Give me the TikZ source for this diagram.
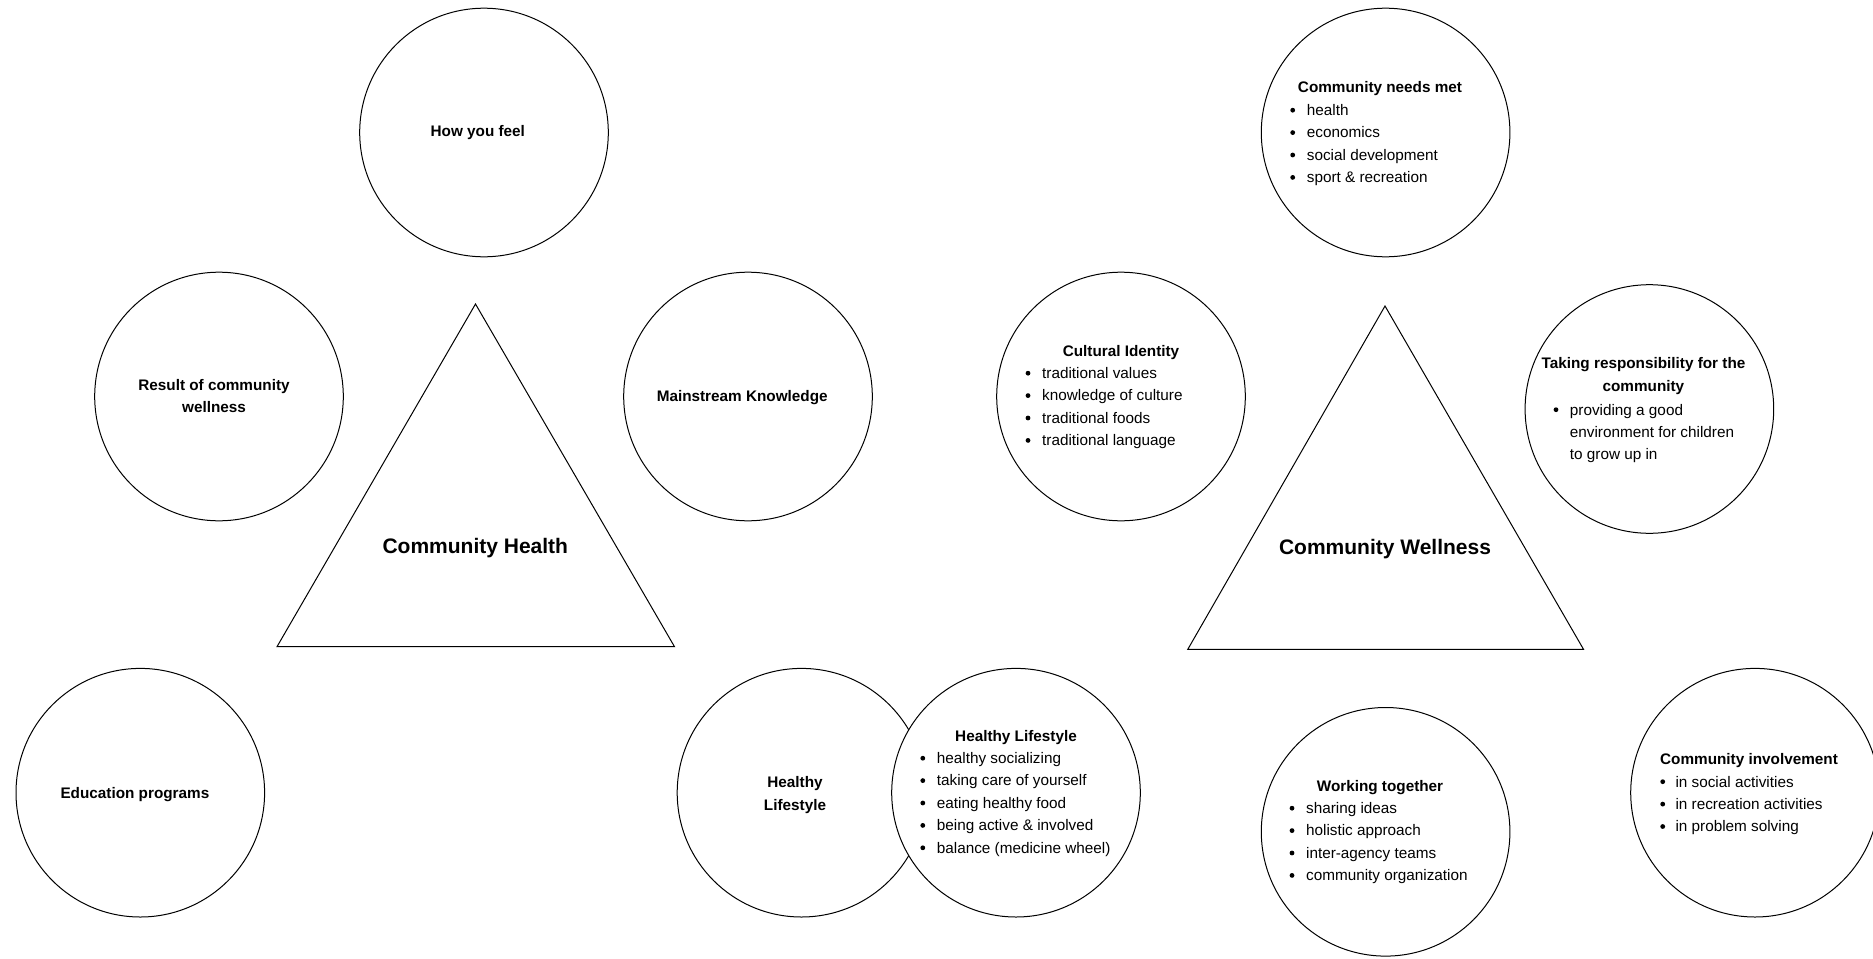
\documentclass[tikz,border=0pt]{standalone}
\usepackage{fontspec}
\setmainfont{Liberation Sans}
\begin{document}
\begin{tikzpicture}[x=1pt,y=-1pt,
  circ/.style={draw=black, line width=1pt, fill=white, circle, minimum size=248.6pt, inner sep=0pt},
  tri/.style={draw=black, line width=1pt, line join=miter},
  ttl/.style={font=\fontsize{15.3}{22.4}\selectfont\bfseries, inner sep=0pt, anchor=base},
  itm/.style={font=\fontsize{15.3}{22.4}\selectfont, inner sep=0pt, anchor=base west},
  bul/.style={circle, fill=black, inner sep=0pt, minimum size=4.8pt},
  big/.style={font=\fontsize{21}{25}\selectfont\bfseries, inner sep=0pt, anchor=base}]
\useasboundingbox (0,0) rectangle (1873,958);
\clip (0,0) rectangle (1873,958);

% ---------- left group: Community Health ----------
\node[circ] (feel) at (484,132.5) {};
\node[circ] (result) at (219,396.5) {};
\node[circ] (main) at (748,396.5) {};
\node[circ] (edu) at (140.3,792.7) {};
\node[circ] (hlA) at (801.5,792.7) {};
\node[circ] (hlB) at (1016,792.7) {};

\coordinate (chA) at (475.5,304);
\coordinate (chB) at (277,646.7);
\coordinate (chC) at (674.5,646.7);
\draw[tri] (chA) -- (chB) -- (chC) -- cycle;
\node[big] (chT) at (475.3,553) {Community Health};

\node[ttl] (feelT) at (477.8,136.7) {How you feel};
\node[ttl] (resT1) at (214,390) {Result of community};
\node[ttl] (resT2) at (214,412.3) {wellness};
\node[ttl] (mainT) at (742.2,401.7) {Mainstream Knowledge};
\node[ttl] (eduT) at (134.9,798) {Education programs};
\node[ttl] (hlAT1) at (795,787.7) {Healthy};
\node[ttl] (hlAT2) at (795,810) {Lifestyle};

\node[ttl] (hlBT) at (1016,741.5) {Healthy Lifestyle};
\foreach \t [count=\i] in {healthy socializing, taking care of yourself, eating healthy food, being active \& involved, balance (medicine wheel)} {
  \node[bul] (hlBb\i) at (922.8,{763.5+22.4*(\i-1)-5.3}) {};
  \node[itm] (hlBi\i) at (936.7,{763.5+22.4*(\i-1)}) {\t};
}

% ---------- right group: Community Wellness ----------
\node[circ] (needs) at (1385.6,132.5) {};
\node[circ] (cult) at (1121,396.5) {};
\node[circ] (take) at (1649.4,409) {};
\node[circ] (work) at (1385.6,831.8) {};
\node[circ] (inv) at (1755,792.7) {};

\coordinate (cwA) at (1385,306);
\coordinate (cwB) at (1187.8,649.3);
\coordinate (cwC) at (1583.5,649.3);
\draw[tri] (cwA) -- (cwB) -- (cwC) -- cycle;
\node[big] (cwT) at (1385,554) {Community Wellness};

\node[ttl] (needsT) at (1380,92.5) {Community needs met};
\foreach \t [count=\i] in {health, economics, social development, sport \& recreation} {
  \node[bul] (needsb\i) at (1292.7,{115.5+22.4*(\i-1)-5.3}) {};
  \node[itm] (needsi\i) at (1306.7,{115.5+22.4*(\i-1)}) {\t};
}

\node[ttl] (cultT) at (1121,356) {Cultural Identity};
\foreach \t [count=\i] in {traditional values, knowledge of culture, traditional foods, traditional language} {
  \node[bul] (cultb\i) at (1028,{378.5+22.4*(\i-1)-5.3}) {};
  \node[itm] (culti\i) at (1042,{378.5+22.4*(\i-1)}) {\t};
}

\node[ttl] (takeT1) at (1643.5,368.8) {Taking responsibility for the};
\node[ttl] (takeT2) at (1643.4,391.7) {community};
\node[bul] (takeb1) at (1556,409.7) {};
\node[itm] (takei1) at (1569.7,415) {providing a good};
\node[itm] (takei2) at (1569.7,437.2) {environment for children};
\node[itm] (takei3) at (1569.7,459.4) {to grow up in};

\node[ttl] (workT) at (1380,791.3) {Working together};
\foreach \t [count=\i] in {sharing ideas, holistic approach, inter-agency teams, community organization} {
  \node[bul] (workb\i) at (1292,{813.5+22.4*(\i-1)-5.3}) {};
  \node[itm] (worki\i) at (1305.9,{813.5+22.4*(\i-1)}) {\t};
}

\node[ttl] (invT) at (1749,764.5) {Community involvement};
\foreach \t [count=\i] in {in social activities, in recreation activities, in problem solving} {
  \node[bul] (invb\i) at (1662.7,{787+22.4*(\i-1)-5.3}) {};
  \node[itm] (invi\i) at (1675.3,{787+22.4*(\i-1)}) {\t};
}
\end{tikzpicture}
\end{document}
